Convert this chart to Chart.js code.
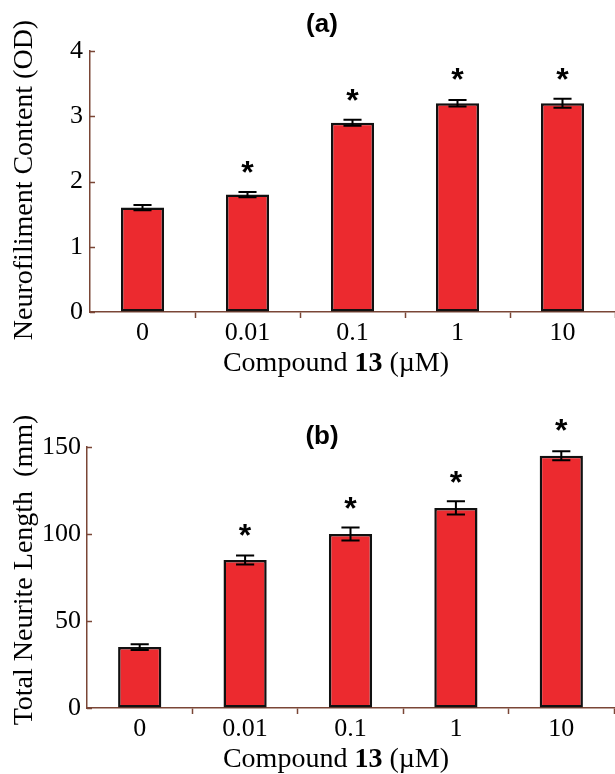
<!DOCTYPE html>
<html>
<head>
<meta charset="utf-8">
<script src="https://cdn.jsdelivr.net/npm/chart.js@4.4.1/dist/chart.umd.min.js"></script>
<style>
  html, body { margin: 0; padding: 0; background: #fff; }
  canvas { display: block; }
</style>
</head>
<body>
<canvas id="chartA" width="615" height="387"></canvas>
<canvas id="chartB" width="615" height="387"></canvas>
<script>
// doses of compound 13 (uM)
const doses = ['0', '0.01', '0.1', '1', '10'];

// panel (a) neurofilament content (OD)
const neurofilament = [1.6, 1.8, 2.9, 3.2, 3.2];
const neurofilamentErr = [0.04, 0.04, 0.045, 0.05, 0.07];
const neurofilamentStars = [null, 2.22, 3.33, 3.65, 3.65];
const ticksA = [0, 1, 2, 3, 4];

// panel (b) total neurite length (mm)
const neuriteLength = [35, 85, 100, 115, 145];
const neuriteErr = [1.6, 2.6, 3.7, 3.8, 2.6];
const neuriteStars = [null, 102.4, 118, 132.8, 162.6];
const ticksB = [0, 50, 100, 150];

const BAR_RED = '#ec2a2f';
const AXIS_BROWN = '#7a4636';
const SERIF = '"Liberation Serif", "Times New Roman", serif';
const SANS = '"Liberation Sans", Arial, sans-serif';

// error bars, significance stars, inward y ticks and the titles
const annotate = {
  id: 'annotate',
  afterDatasetsDraw(chart, args, opts) {
    const ctx = chart.ctx;
    const y = chart.scales.y;
    const meta = chart.getDatasetMeta(0);
    ctx.save();
    ctx.strokeStyle = '#000';
    ctx.lineWidth = 2;
    meta.data.forEach((bar, i) => {
      const v = opts.values[i];
      const e = opts.errors[i];
      const top = y.getPixelForValue(v + e);
      const bot = y.getPixelForValue(v - e);
      const half = bar.width * 0.21;
      ctx.beginPath();
      ctx.moveTo(bar.x, top); ctx.lineTo(bar.x, bot);
      ctx.moveTo(bar.x - half, top); ctx.lineTo(bar.x + half, top);
      ctx.moveTo(bar.x - half, bot); ctx.lineTo(bar.x + half, bot);
      ctx.stroke();

      const s = opts.stars[i];
      if (s != null) {
        ctx.font = 'bold 32px ' + SANS;
        ctx.fillStyle = '#000';
        ctx.textAlign = 'center';
        ctx.textBaseline = 'alphabetic';
        const m = ctx.measureText('*');
        const py = y.getPixelForValue(s);
        ctx.fillText('*', bar.x, py + (m.actualBoundingBoxAscent - m.actualBoundingBoxDescent) / 2);
      }
    });
    ctx.restore();
  },
  afterDraw(chart, args, opts) {
    const ctx = chart.ctx;
    const y = chart.scales.y;
    const area = chart.chartArea;
    ctx.save();

    // small tick marks pointing into the plot
    ctx.strokeStyle = AXIS_BROWN;
    ctx.lineWidth = 1.5;
    y.ticks.forEach(t => {
      const py = Math.round(y.getPixelForValue(t.value)) + 0.5;
      ctx.beginPath();
      ctx.moveTo(area.left, py);
      ctx.lineTo(area.left + 5, py);
      ctx.stroke();
    });

    ctx.fillStyle = '#000';

    // panel letter
    ctx.font = 'bold 26px ' + SANS;
    ctx.textAlign = 'center';
    ctx.textBaseline = 'middle';
    ctx.fillText(opts.panel, 322, opts.panelY);

    // y axis title
    ctx.save();
    ctx.translate(32, opts.yTitleCenter);
    ctx.rotate(-Math.PI / 2);
    ctx.font = '28px ' + SERIF;
    ctx.textAlign = 'center';
    ctx.textBaseline = 'alphabetic';
    ctx.fillText(opts.yTitle, 0, 0);
    ctx.restore();

    // x axis title with bold compound number
    const parts = [
      { text: 'Compound ', font: '28px ' + SERIF },
      { text: '13', font: 'bold 28px ' + SERIF },
      { text: ' (\u00b5M)', font: '28px ' + SERIF }
    ];
    let total = 0;
    parts.forEach(p => { ctx.font = p.font; p.w = ctx.measureText(p.text).width; total += p.w; });
    let x = 336 - total / 2;
    const base = area.bottom + 59;
    ctx.textAlign = 'left';
    ctx.textBaseline = 'alphabetic';
    parts.forEach(p => { ctx.font = p.font; ctx.fillText(p.text, x, base); x += p.w; });

    ctx.restore();
  }
};

function makePanel(id, cfg) {
  return new Chart(document.getElementById(id), {
    type: 'bar',
    data: {
      labels: doses,
      datasets: [{
        data: cfg.values,
        backgroundColor: BAR_RED,
        borderColor: '#111',
        borderWidth: 2.5,
        borderSkipped: false,
        barPercentage: 0.41,
        categoryPercentage: 1
      }]
    },
    options: {
      responsive: false,
      animation: false,
      layout: { padding: { top: cfg.top, right: cfg.right, bottom: 0, left: 0 } },
      plugins: {
        legend: { display: false },
        tooltip: { enabled: false },
        annotate: {
          values: cfg.values,
          errors: cfg.errors,
          stars: cfg.stars,
          panel: cfg.panel,
          panelY: cfg.panelY,
          yTitle: cfg.yTitle,
          yTitleCenter: cfg.yTitleCenter
        }
      },
      scales: {
        x: {
          offset: true,
          afterFit: s => { s.height = cfg.xHeight; },
          border: { color: AXIS_BROWN, width: 1.5 },
          grid: {
            offset: true,
            drawOnChartArea: false,
            tickLength: 6,
            tickWidth: 1.5,
            color: c => (c.index === 0 || c.index >= doses.length) ? 'rgba(0,0,0,0)' : AXIS_BROWN
          },
          ticks: {
            color: '#000',
            padding: 0,
            font: { family: SERIF, size: 26 }
          }
        },
        y: {
          min: cfg.ticks[0],
          max: cfg.ticks[cfg.ticks.length - 1],
          afterFit: s => { s.width = cfg.yWidth; },
          afterBuildTicks: s => { s.ticks = cfg.ticks.map(v => ({ value: v })); },
          border: { color: AXIS_BROWN, width: 1.5 },
          grid: { display: true, drawOnChartArea: false, drawTicks: false },
          ticks: {
            color: '#000',
            padding: cfg.yPad,
            font: { family: SERIF, size: 26 }
          }
        }
      }
    },
    plugins: [annotate]
  });
}

makePanel('chartA', {
  values: neurofilament,
  errors: neurofilamentErr,
  stars: neurofilamentStars,
  ticks: ticksA,
  top: 51, right: 0, xHeight: 75, yWidth: 90, yPad: 7,
  panel: '(a)', panelY: 25,
  yTitle: 'Neurofiliment Content (OD)', yTitleCenter: 180
});

makePanel('chartB', {
  values: neuriteLength,
  errors: neuriteErr,
  stars: neuriteStars,
  ticks: ticksB,
  top: 60, right: 1, xHeight: 66, yWidth: 87, yPad: 6,
  panel: '(b)', panelY: 50,
  yTitle: 'Total Neurite Length  (mm)', yTitleCenter: 183
});
</script>
</body>
</html>
